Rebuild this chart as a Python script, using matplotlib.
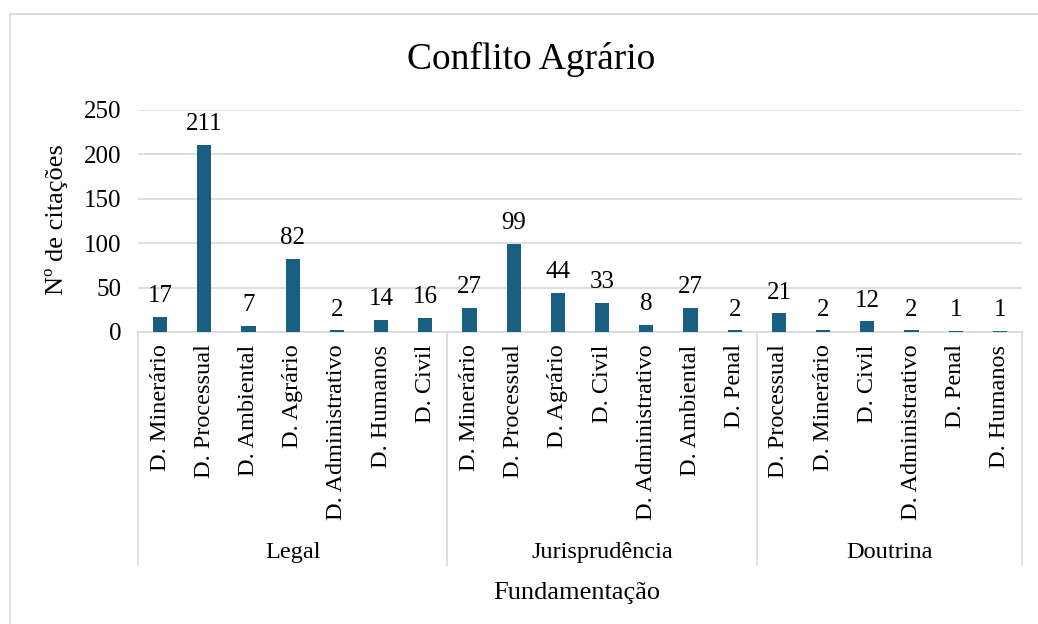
import matplotlib.pyplot as plt
from matplotlib.patches import Rectangle

plt.rcParams['font.family'] = ['Liberation Serif', 'DejaVu Serif']

# Dados do grafico
grupos = ["Legal", "Jurisprudência", "Doutrina"]
legal_cat = ["D. Minerário", "D. Processual", "D. Ambiental", "D. Agrário",
             "D. Administrativo", "D. Humanos", "D. Civil"]
legal_val = [17, 211, 7, 82, 2, 14, 16]
juris_cat = ["D. Minerário", "D. Processual", "D. Agrário", "D. Civil",
             "D. Administrativo", "D. Ambiental", "D. Penal"]
juris_val = [27, 99, 44, 33, 8, 27, 2]
dout_cat = ["D. Processual", "D. Minerário", "D. Civil", "D. Administrativo",
            "D. Penal", "D. Humanos"]
dout_val = [21, 2, 12, 2, 1, 1]

categorias = legal_cat + juris_cat + dout_cat
valores = legal_val + juris_val + dout_val
tamanhos = [len(legal_cat), len(juris_cat), len(dout_cat)]

cor = "#195E83"
cinza = "#D9D9D9"

fig = plt.figure(figsize=(10.38, 6.24), dpi=100)
fig.patches.append(Rectangle((10 / 1038, -0.1), 1.2, 0.1 + 1 - 14 / 624,
                             transform=fig.transFigure, fill=False,
                             edgecolor=cinza, lw=1.2))

ax = fig.add_axes([138 / 1038, 1 - 332 / 624, (1022 - 138) / 1038, (332 - 110) / 624])
x = list(range(len(categorias)))
ax.bar(x, valores, width=0.32, color=cor, zorder=3)
for xi, v in zip(x, valores):
    ax.annotate(str(v), (xi, v), xytext=(0, 7), textcoords="offset points",
                ha="center", va="bottom", fontsize=18)

ax.set_xlim(-0.5, len(categorias) - 0.5)
ax.set_ylim(0, 250)
ax.set_yticks(range(0, 251, 50))
ax.tick_params(axis="y", length=0, labelsize=18, pad=12)
ax.yaxis.grid(True, color=cinza, lw=1.2, zorder=0)
for s in ["top", "right", "left"]:
    ax.spines[s].set_visible(False)
ax.spines["bottom"].set_color(cinza)
ax.spines["bottom"].set_linewidth(1.2)

ax.set_xticks(x)
ax.set_xticklabels(categorias, rotation=90, fontsize=17.5, va="top")
ax.tick_params(axis="x", length=0, pad=9)

# Separadores e rotulos dos grupos
trans = ax.get_xaxis_transform()
limites = [-0.5]
for t in tamanhos:
    limites.append(limites[-1] + t)
for b in limites:
    ax.plot([b, b], [0, -1.05], color=cinza, lw=1.2, transform=trans, clip_on=False)
for g, a, b in zip(grupos, limites[:-1], limites[1:]):
    ax.text((a + b) / 2, -0.995, g, transform=trans, ha="center", va="center", fontsize=17.5)

fig.text(57 / 1038, 1 - 220 / 624, "Nº de citações", rotation=90,
         ha="center", va="center", fontsize=19)
fig.text(577 / 1038, 1 - 593 / 624, "Fundamentação", ha="center", va="center", fontsize=19)
fig.text(531 / 1038, 1 - 59 / 624, "Conflito Agrário", ha="center", va="center", fontsize=27)

fig.savefig("out.png", dpi=100)
